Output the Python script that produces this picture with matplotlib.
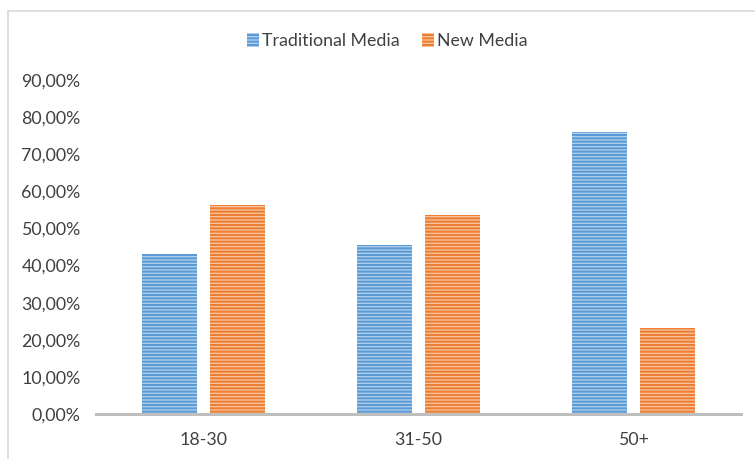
import matplotlib
matplotlib.use("Agg")
import matplotlib.pyplot as plt
import numpy as np
from matplotlib.patches import Rectangle
from matplotlib.ticker import FuncFormatter

categories = ["18-30", "31-50", "50+"]
traditional = [0.431, 0.455, 0.760]
new_media = [0.563, 0.537, 0.232]
series_names = ["Traditional Media", "New Media"]

plt.rcParams['font.family'] = ['Lato', 'DejaVu Sans']
plt.rcParams['hatch.linewidth'] = 1.5

fig = plt.figure(figsize=(7.55, 4.59), dpi=100)
fig.patch.set_facecolor('white')

# outer chart frame
fig.add_artist(Rectangle((8/755, -0.05), 1.2, 1 - 11/459 + 0.05, transform=fig.transFigure,
                         fill=False, edgecolor='#D9D9D9', linewidth=1.2))

ax = fig.add_axes([96/755, 1 - 414/459, (741 - 96)/755, (414 - 80)/459])
x = np.arange(len(categories))
w = 0.26
off = 0.158
b1 = ax.bar(x - off, traditional, w, facecolor='#B4D0EE', edgecolor='#5B9BD5',
            hatch='-----', linewidth=0, label=series_names[0])
b2 = ax.bar(x + off, new_media, w, facecolor='#F8C6A4', edgecolor='#ED7D31',
            hatch='-----', linewidth=0, label=series_names[1])

ax.set_xlim(-0.5, 2.5)
ax.set_ylim(0, 0.9)
ax.set_yticks(np.arange(0, 0.91, 0.1))
ax.yaxis.set_major_formatter(FuncFormatter(lambda v, p: f"{v*100:.2f}%".replace('.', ',')))
ax.set_xticks(x)
ax.set_xticklabels(categories)
for s in ['top', 'right', 'left']:
    ax.spines[s].set_visible(False)
ax.spines['bottom'].set_color('#BFBFBF')
ax.spines['bottom'].set_linewidth(2.2)
ax.tick_params(axis='both', length=0, labelsize=12.8, colors='#404040')
ax.tick_params(axis='y', pad=11)
ax.tick_params(axis='x', pad=13)

leg = fig.legend(handles=[b1, b2], loc='center', bbox_to_anchor=(0.513, 0.911), ncol=2,
                 frameon=False, fontsize=12.8, handlelength=0.65, handleheight=0.85,
                 handletextpad=0.15, columnspacing=1.3)
for t in leg.get_texts():
    t.set_color('#404040')

fig.savefig("out.png", dpi=100, facecolor='white')
